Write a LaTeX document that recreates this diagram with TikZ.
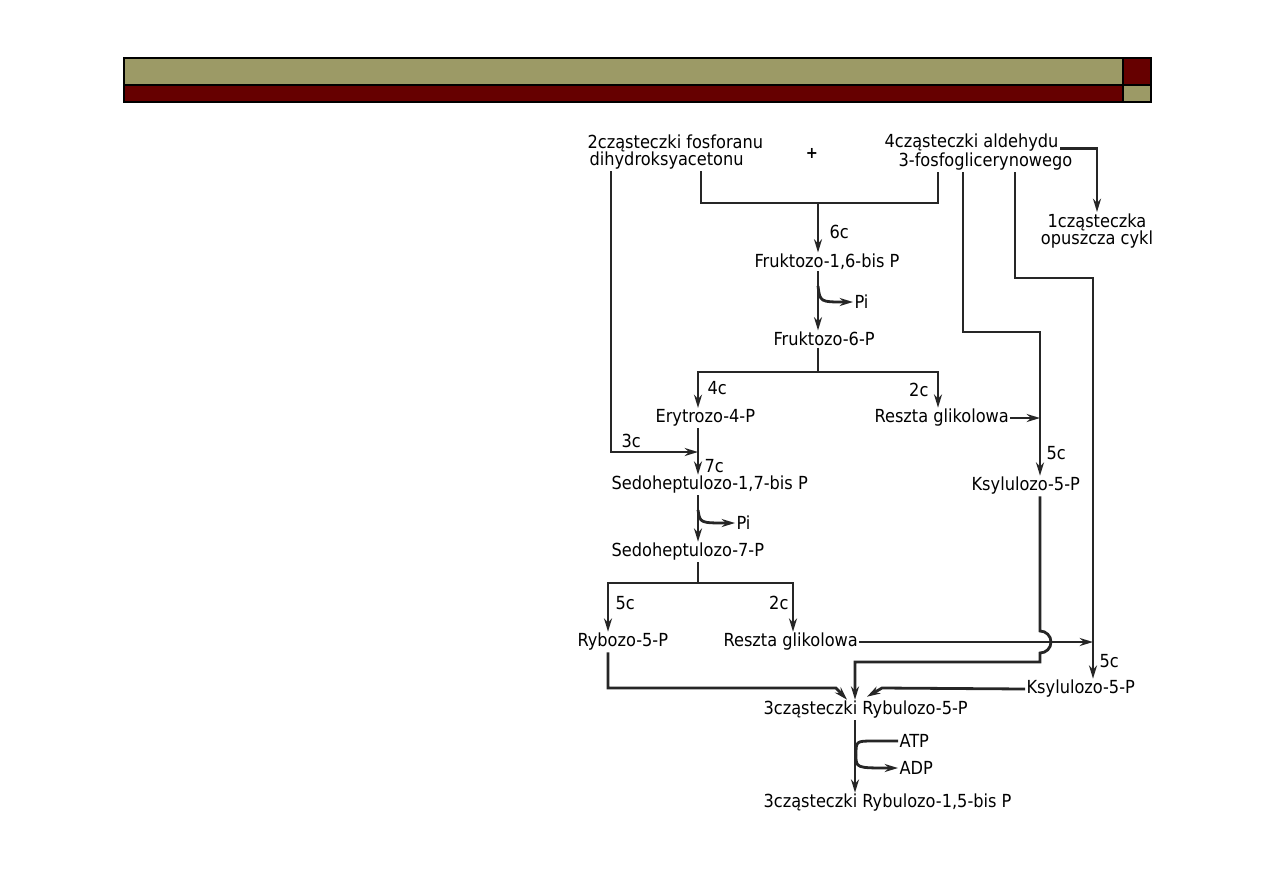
\documentclass[tikz,border=0pt]{standalone}
\usepackage{fontspec}
\setmainfont{DejaVu Sans Condensed}
\usetikzlibrary{arrows.meta, calc}
\definecolor{barolive}{HTML}{9C9A66}
\definecolor{barred}{HTML}{660000}

\begin{document}
\begin{tikzpicture}[x=0.75pt,y=-0.75pt]
\tikzset{
  tx/.style={inner sep=1pt,anchor=west,font=\fontsize{13.5}{13}\selectfont},
  cn/.style={inner sep=1pt,font=\fontsize{13.5}{13}\selectfont},
  ln/.style={line width=2.1pt,draw=black!85},
  ar/.style={ln,-{Stealth[length=10pt,width=6pt]}},
  bar/.style={line width=1.5pt,draw=black}
}
\useasboundingbox (0,0) rectangle (1263,893);
% header bars
\draw[bar,fill=barolive] (124,58) rectangle (1123,85);
\draw[bar,fill=barred] (1123,58) rectangle (1151,85);
\draw[bar,fill=barred] (124,85) rectangle (1123,102);
\draw[bar,fill=barolive] (1123,85) rectangle (1151,102);
% substrates
\node[tx] (dhapA) at (586,143) {2cząsteczki fosforanu};
\node[tx] (dhapB) at (588,161) {dihydroksyacetonu};
\node[cn,font=\fontsize{12}{12}\bfseries] (plus) at (812,153) {+};
\node[tx] (gapA) at (883,143) {4cząsteczki aldehydu};
\node[tx] (gapB) at (897,162) {3-fosfoglicerynowego};
\node[cn,align=center] (lost) at (1097,231) {1cząsteczka\\opuszcza cykl};
% intermediates
\node[tx] (f16) at (753,262) {Fruktozo-1,6-bis P};
\node[tx] (piA) at (853,302) {Pi};
\node[tx] (f6) at (772,339) {Fruktozo-6-P};
\node[tx] (e4) at (654,418) {Erytrozo-4-P};
\node[tx] (rgA) at (873,418) {Reszta glikolowa};
\node[tx] (xuA) at (970,486) {Ksylulozo-5-P};
\node[tx] (s17) at (610,485) {Sedoheptulozo-1,7-bis P};
\node[tx] (piB) at (735,523) {Pi};
\node[tx] (s7) at (610,552) {Sedoheptulozo-7-P};
\node[tx] (r5) at (576,642) {Rybozo-5-P};
\node[tx] (rgB) at (722,642) {Reszta glikolowa};
\node[tx] (xuB) at (1025,689) {Ksylulozo-5-P};
\node[tx] (ru5) at (762,710) {3cząsteczki Rybulozo-5-P};
\node[tx] (atp) at (898,741) {ATP};
\node[tx] (adp) at (898,768) {ADP};
\node[tx] (rubp) at (762,803) {3cząsteczki Rybulozo-1,5-bis P};
% carbon counts
\node[tx] (cSix) at (828,232) {6c};
\node[tx] (cFour) at (706,388) {4c};
\node[cn,anchor=east] (cTwoA) at (930,390) {2c};
\node[tx] (cThree) at (620,441) {3c};
\node[tx] (cSeven) at (703,466) {7c};
\node[tx] (cFiveA) at (1045,453) {5c};
\node[tx] (cFiveB) at (1098,661) {5c};
\node[tx] (cFiveC) at (614,603) {5c};
\node[cn,anchor=east] (cTwoB) at (790,603) {2c};
% corners of the connectors
\coordinate (kA) at (701,203);
\coordinate (jF) at (818,203);
\coordinate (kC) at (938,203);
\coordinate (kL) at (611,452);
\coordinate (s3c) at (698,452);
\coordinate (kD) at (963,332);
\coordinate (kD2) at (1040,332);
\coordinate (kE) at (1015,278);
\coordinate (kE2) at (1093,278);
\coordinate (pA) at (818,286);
\coordinate (bA) at (818,372);
\coordinate (pB) at (698,510);
\coordinate (bB) at (698,583);
\coordinate (hop) at (1040,631);
\coordinate (u1) at (855,662);
\coordinate (kR) at (608,688);
\coordinate (kRl) at (836,688);
\coordinate (kX) at (882,688);
\coordinate (cA) at (874,741);
\coordinate (cB) at (856,755);

\draw[ln] (dhapB.south -| kA) -- (kA) -- (kC) -- (gapB.south -| kC);
\draw[ar] (jF) -- (f16.north -| jF);
\draw[ar] ([yshift=-4pt]gapA.east) -| (lost.north);
\draw[ar] (dhapB.south -| kL) -- (kL) -- (s3c);
\draw[ar] (f16.south -| jF) -- (f6.north -| jF);
\draw[ar] (pA) .. controls ($(pA |- piA.west)+(2,0)$) .. (piA.west);
\draw[ln] (f6.south -| bA) -- (bA);
\draw[ar] (bA) -| (e4.north -| s3c);
\draw[ar] (bA) -| (rgA.north -| kC);
\draw[ar] (rgA.east) -- (rgA.east -| kD2);
\draw[ar] (gapB.south -| kD) -- (kD) -- (kD2) -- (xuA.north -| kD2);
\draw[ar] (gapB.south -| kE) -- (kE) -- (kE2) -- (xuB.north -| kE2);
\draw[ar] (e4.south -| s3c) -- (s17.north -| s3c);
\draw[ar] (pB) .. controls ($(pB |- piB.west)+(2,0)$) .. (piB.west);
\draw[ar] (s17.south -| pB) -- (s7.north -| pB);
\draw[ln] (s7.south -| bB) -- (bB);
\draw[ar] (bB) -| (r5.north -| kR);
\draw[ar] (bB) -| (rgB.north -| 793,0);
\draw[ar] (rgB.east) -- (rgB.east -| kE2);
\draw[ar] (xuA.south -| hop) -- (hop) arc[start angle=-90,end angle=90,radius=11] |- (u1) -- (ru5.north -| u1);
\draw[ar] (r5.south -| kR) -- (kR) -- (kRl) -- ($(ru5.north -| u1)+(-8,0)$);
\draw[ar] (xuB.west) -- (kX) -- ($(ru5.north -| u1)+(12,-3)$);
\draw[ar] (ru5.south -| u1) -- (rubp.north -| u1);
\draw[ln] (atp.west) -- (cA) .. controls (cA -| cB) .. (cB);
\draw[ar] (cB) .. controls (cB |- adp.west) .. (adp.west);
\end{tikzpicture}
\end{document}
